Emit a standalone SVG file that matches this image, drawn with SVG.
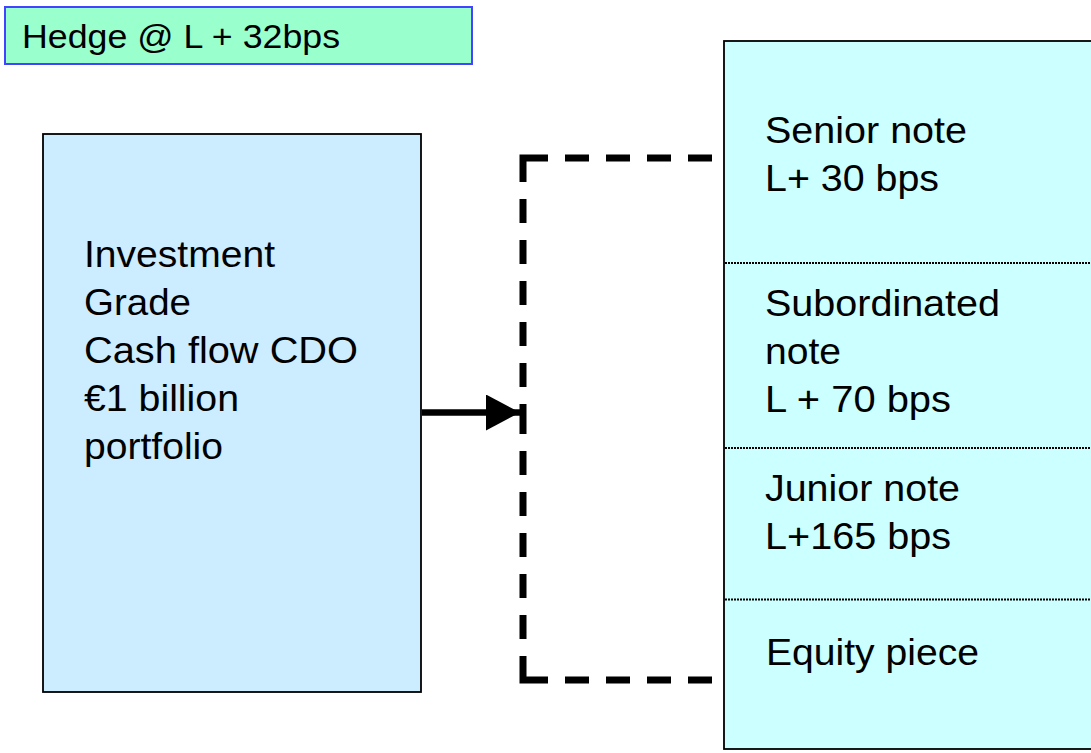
<svg xmlns="http://www.w3.org/2000/svg" width="1091" height="753" viewBox="0 0 1091 753">
<style>
.t{font-family:"Liberation Sans",Arial,sans-serif;font-size:36px;fill:#000}
.h{font-family:"Liberation Sans",Arial,sans-serif;font-size:32.5px;fill:#000}
.div{stroke:#000;stroke-width:2;stroke-dasharray:2 1;fill:none}
.dash{fill:none;stroke:#000;stroke-width:7;stroke-dasharray:24 17 24 17 24 17 24 17 49 17 24 17 24 17 24 17 24 17 24 17 24 17 24 17}
</style>
<defs>
<marker id="ah" viewBox="0 0 34 36" refX="34" refY="18" markerWidth="34" markerHeight="36" markerUnits="userSpaceOnUse" orient="auto">
<path d="M0,0 L34,18 L0,36 Z" fill="#000"/>
</marker>
</defs>
<rect width="1091" height="753" fill="#fff"/>
<g id="hedge">
<rect x="5" y="7" width="467" height="57" fill="#99FFCC" stroke="#4444FF" stroke-width="2"/>
<text class="h" x="22" y="48" textLength="318" lengthAdjust="spacingAndGlyphs">Hedge @ L + 32bps</text>
</g>
<g id="portfolio">
<rect x="43" y="134" width="378" height="558" fill="#CCECFF" stroke="#000" stroke-width="1.8"/>
<text class="t" x="84" y="267" textLength="191" lengthAdjust="spacingAndGlyphs">Investment</text>
<text class="t" x="84" y="315" textLength="107" lengthAdjust="spacingAndGlyphs">Grade</text>
<text class="t" x="84" y="363" textLength="274" lengthAdjust="spacingAndGlyphs">Cash flow CDO</text>
<text class="t" x="84" y="411" textLength="155" lengthAdjust="spacingAndGlyphs">€1 billion</text>
<text class="t" x="84" y="459" textLength="139" lengthAdjust="spacingAndGlyphs">portfolio</text>
</g>
<g id="tranches">
<rect x="724" y="41" width="420" height="708" fill="#CCFFFF" stroke="#000" stroke-width="1.8"/>
<line class="div" x1="725" y1="263" x2="1091" y2="263"/>
<line class="div" x1="725" y1="448" x2="1091" y2="448"/>
<line class="div" x1="725" y1="599.5" x2="1091" y2="599.5"/>
<g id="senior">
<text class="t" x="765" y="143" textLength="202" lengthAdjust="spacingAndGlyphs">Senior note</text>
<text class="t" x="765" y="191" textLength="174" lengthAdjust="spacingAndGlyphs">L+ 30 bps</text>
</g>
<g id="subordinated">
<text class="t" x="765" y="316" textLength="235" lengthAdjust="spacingAndGlyphs">Subordinated</text>
<text class="t" x="765" y="364" textLength="76" lengthAdjust="spacingAndGlyphs">note</text>
<text class="t" x="765" y="412" textLength="186" lengthAdjust="spacingAndGlyphs">L + 70 bps</text>
</g>
<g id="junior">
<text class="t" x="765" y="501" textLength="195" lengthAdjust="spacingAndGlyphs">Junior note</text>
<text class="t" x="765" y="549" textLength="186" lengthAdjust="spacingAndGlyphs">L+165 bps</text>
</g>
<g id="equity">
<text class="t" x="766" y="665" textLength="213" lengthAdjust="spacingAndGlyphs">Equity piece</text>
</g>
</g>
<g id="connectors">
<path class="dash" d="M712,158 H523 V419"/>
<path class="dash" d="M712,680 H523 V419"/>
<line x1="422" y1="412.5" x2="520" y2="412.5" stroke="#000" stroke-width="6.5" marker-end="url(#ah)"/>
</g>
</svg>
